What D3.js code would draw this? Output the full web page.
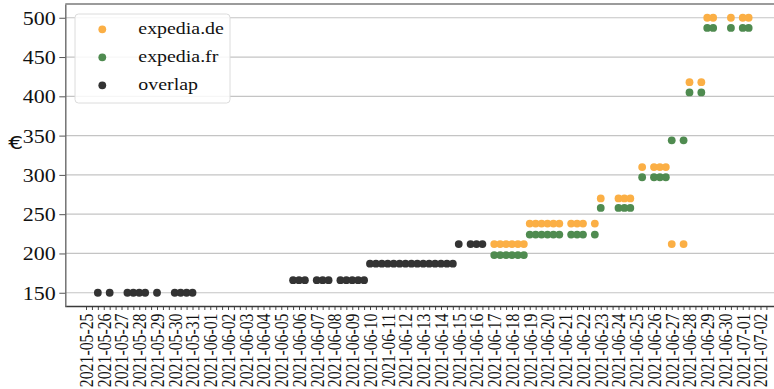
<!DOCTYPE html>
<html>
<head>
<meta charset="utf-8">
<script src="https://cdn.jsdelivr.net/npm/d3@7"></script>
<style>
  html, body { margin: 0; padding: 0; background: #fff; }
  svg { display: block; }
</style>
</head>
<body>
<script>
// Hotel price per night (€) scraped every 8 hours from two Expedia storefronts.
// "overlap" = both sites showed the same price at that time.
const overlapTimes = [
  "2021-05-25 20:00", "2021-05-26 12:00", "2021-05-27 12:00", "2021-05-27 20:00",
  "2021-05-28 04:00", "2021-05-28 12:00", "2021-05-29 04:00", "2021-05-30 04:00",
  "2021-05-30 12:00", "2021-05-30 20:00", "2021-05-31 04:00",
  "2021-06-05 20:00", "2021-06-06 04:00", "2021-06-06 12:00", "2021-06-07 04:00",
  "2021-06-07 12:00", "2021-06-07 20:00", "2021-06-08 12:00", "2021-06-08 20:00",
  "2021-06-09 04:00", "2021-06-09 12:00", "2021-06-09 20:00",
  "2021-06-10 04:00", "2021-06-10 12:00", "2021-06-10 20:00",
  "2021-06-11 04:00", "2021-06-11 12:00", "2021-06-11 20:00",
  "2021-06-12 04:00", "2021-06-12 12:00", "2021-06-12 20:00",
  "2021-06-13 04:00", "2021-06-13 12:00", "2021-06-13 20:00",
  "2021-06-14 04:00", "2021-06-14 12:00", "2021-06-14 20:00",
  "2021-06-15 04:00", "2021-06-15 20:00", "2021-06-16 04:00", "2021-06-16 12:00"
];
const overlapPrices = [
  150, 150, 150, 150, 150, 150, 150, 150, 150, 150, 150,
  166, 166, 166, 166, 166, 166, 166, 166, 166, 166, 166,
  187, 187, 187, 187, 187, 187, 187, 187, 187, 187, 187, 187, 187, 187, 187,
  212, 212, 212, 212
];

// Times at which the two storefronts disagreed
const splitTimes = [
  "2021-06-17 04:00", "2021-06-17 12:00", "2021-06-17 20:00",
  "2021-06-18 04:00", "2021-06-18 12:00", "2021-06-18 20:00",
  "2021-06-19 04:00", "2021-06-19 12:00", "2021-06-19 20:00",
  "2021-06-20 04:00", "2021-06-20 12:00", "2021-06-20 20:00",
  "2021-06-21 12:00", "2021-06-21 20:00", "2021-06-22 04:00", "2021-06-22 20:00",
  "2021-06-23 04:00", "2021-06-24 04:00", "2021-06-24 12:00", "2021-06-24 20:00",
  "2021-06-25 12:00", "2021-06-26 04:00", "2021-06-26 12:00", "2021-06-26 20:00",
  "2021-06-27 04:00", "2021-06-27 20:00", "2021-06-28 04:00", "2021-06-28 20:00",
  "2021-06-29 04:00", "2021-06-29 12:00", "2021-06-30 12:00",
  "2021-07-01 04:00", "2021-07-01 12:00"
];
const dePrices = [
  212, 212, 212, 212, 212, 212,
  238, 238, 238, 238, 238, 238,
  238, 238, 238, 238,
  270, 270, 270, 270,
  310, 310, 310, 310,
  212, 212, 418, 418,
  500, 500, 500, 500, 500
];
const frPrices = [
  198, 198, 198, 198, 198, 198,
  224, 224, 224, 224, 224, 224,
  224, 224, 224, 224,
  258, 258, 258, 258,
  297, 297, 297, 297,
  344, 344, 405, 405,
  487, 487, 487, 487, 487
];

const seriesNames = ["expedia.de", "expedia.fr", "overlap"];
const seriesColors = ["#fbaf45", "#4f8b50", "#333333"];
const yTicks = [150, 200, 250, 300, 350, 400, 450, 500];
const firstTick = "2021-05-25 04:00";   // ticks every 8 h, a label on each day's first sample
const lastTick = "2021-07-02 12:00";

const W = 774, H = 389;
const plot = { left: 65.3, top: 4, right: 781.2, bottom: 306.5 };
const serif = "'Liberation Serif', 'Times New Roman', Times, serif";
const sx = 1.17; // horizontal stretch of the text

const parse = d3.utcParse("%Y-%m-%d %H:%M");
const fmtDay = d3.utcFormat("%Y-%m-%d");

const rows = [];
splitTimes.forEach((t, i) => rows.push({ s: 0, t: parse(t), v: dePrices[i] }));
splitTimes.forEach((t, i) => rows.push({ s: 1, t: parse(t), v: frPrices[i] }));
overlapTimes.forEach((t, i) => rows.push({ s: 2, t: parse(t), v: overlapPrices[i] }));

// 5 % padding on each side of the data range
const tExt = d3.extent(rows, d => d.t);
const tPad = (tExt[1] - tExt[0]) * 0.05;
const vExt = d3.extent(rows, d => d.v);
const vPad = (vExt[1] - vExt[0]) * 0.05;

const x = d3.scaleUtc()
  .domain([new Date(+tExt[0] - tPad), new Date(+tExt[1] + tPad)])
  .range([plot.left, plot.right]);
const y = d3.scaleLinear()
  .domain([vExt[0] - vPad, vExt[1] + vPad])
  .range([plot.bottom, plot.top]);

const svg = d3.select("body").append("svg")
  .attr("width", W).attr("height", H)
  .attr("viewBox", `0 0 ${W} ${H}`);

// horizontal grid
svg.append("g").selectAll("line").data(yTicks).join("line")
  .attr("x1", plot.left).attr("x2", W)
  .attr("y1", d => y(d)).attr("y2", d => y(d))
  .attr("stroke", "#c4c4c4").attr("stroke-width", 1.2);

// points
svg.append("g").selectAll("circle").data(rows).join("circle")
  .attr("cx", d => x(d.t)).attr("cy", d => y(d.v))
  .attr("r", 3.9)
  .attr("fill", d => seriesColors[d.s]);

// x axis
const t0 = parse(firstTick), t1 = parse(lastTick);
const slotTicks = d3.utcHour.every(1).range(t0, new Date(+t1 + 1))
  .filter(d => (d - t0) % (8 * 3600e3) === 0);
const xAxis = d3.axisBottom(x)
  .tickValues(slotTicks)
  .tickSizeInner(3.5).tickSizeOuter(0)
  .tickFormat(d => d.getUTCHours() === 4 ? fmtDay(d) : "");
const gx = svg.append("g").attr("transform", `translate(0,${plot.bottom})`).call(xAxis);
gx.select(".domain").attr("stroke", "#3a3a3a").attr("stroke-width", 1.4)
  .attr("d", `M${plot.left},0H${W}`);
gx.selectAll(".tick line").attr("stroke", "#333").attr("stroke-width", 0.9);
gx.selectAll(".tick text")
  .attr("x", null).attr("y", null).attr("dy", "0.35em")
  .attr("text-anchor", "end")
  .attr("transform", `translate(0,7) scale(${sx},1) rotate(-90)`)
  .style("font-family", serif).style("font-size", "15.8px").attr("fill", "#111");

// y axis
const yAxis = d3.axisLeft(y).tickValues(yTicks).tickSizeInner(6).tickSizeOuter(0).tickPadding(4);
const gy = svg.append("g").attr("transform", `translate(${plot.left},0)`).call(yAxis);
gy.select(".domain").attr("stroke", "#6a6a6a").attr("stroke-width", 1.4);
gy.selectAll(".tick line").attr("stroke", "#555");
gy.selectAll(".tick text")
  .attr("x", null).attr("dy", "0.35em")
  .attr("text-anchor", "end")
  .attr("transform", `translate(-9.5,0) scale(1.2,1)`)
  .style("font-family", serif).style("font-size", "18.3px").attr("fill", "#111");

// top frame line
svg.append("line")
  .attr("x1", plot.left).attr("x2", W)
  .attr("y1", plot.top).attr("y2", plot.top)
  .attr("stroke", "#7a7a7a").attr("stroke-width", 1.6);

// y label
svg.append("text")
  .attr("transform", `translate(15.8,142.5) scale(1.3,1)`)
  .attr("text-anchor", "middle").attr("dy", "0.36em")
  .style("font-family", "'DejaVu Sans', sans-serif").style("font-size", "18px")
  .attr("fill", "#111")
  .text("€");

// legend
const lg = svg.append("g");
lg.append("rect")
  .attr("x", 75).attr("y", 14).attr("width", 155).attr("height", 89)
  .attr("rx", 3.5)
  .attr("fill", "#fff").attr("fill-opacity", 0.85)
  .attr("stroke", "#dcdcdc").attr("stroke-width", 1);
const items = lg.selectAll("g.item").data(seriesNames).join("g")
  .attr("class", "item")
  .attr("transform", (d, i) => `translate(0,${29.3 + i * 28})`);
items.append("circle").attr("cx", 102.3).attr("cy", 0).attr("r", 3.9)
  .attr("fill", (d, i) => seriesColors[i]);
items.append("text")
  .attr("transform", `translate(138.3,0) scale(${sx},1)`)
  .attr("dy", "0.3em")
  .style("font-family", serif).style("font-size", "17px").attr("fill", "#111")
  .text(d => d);
</script>
</body>
</html>
